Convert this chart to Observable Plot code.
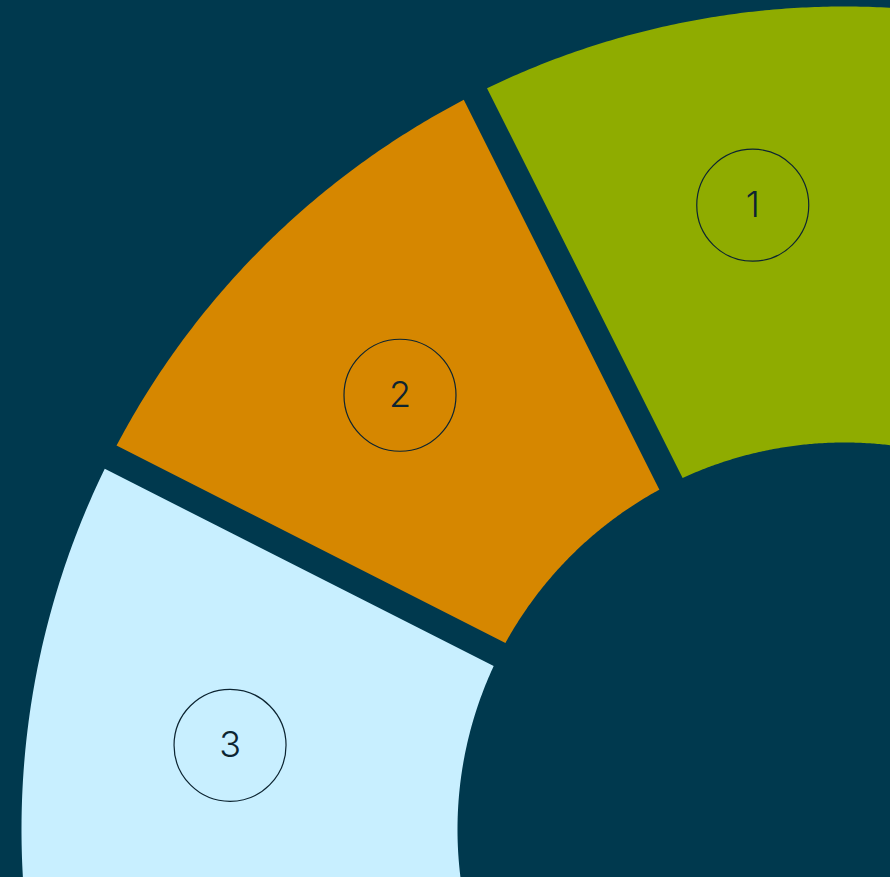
<!DOCTYPE html>
<html>
<head>
<meta charset="utf-8">
<script src="https://cdn.jsdelivr.net/npm/d3@7"></script>
<script src="https://cdn.jsdelivr.net/npm/@observablehq/plot@0.6"></script>
<style>
  html, body { margin: 0; padding: 0; background: #00394e; overflow: hidden; }
  #chart svg { display: block; }
</style>
</head>
<body>
<div id="chart"></div>
<script>
// ---- data (angles in degrees, counter-clockwise from 12 o'clock) ----
const segmentLabels = ["1", "2", "3"];
const segmentStart  = [-9.8, 26.65, 63.1];
const segmentEnd    = [26.65, 63.1, 99.55];
const segmentColors = ["#8fac00", "#d68700", "#c8efff"];

// ---- geometry / style constants ----
const W = 890, H = 877;
const CX = 844, CY = 829;           // donut centre in page pixels
const R_OUT = 823, R_IN = 387;
const GAP = 26;                     // parallel gap between slices
// label badge placement (polar, relative to the donut centre)
const LABEL_ANGLE = [8.36, 45.67, 82.2];
const LABEL_R = [631, 621.4, 620.2];
const BG = "#00394e";
const INK = "#0c2431";

const rad = d => d * Math.PI / 180;
const px = (r, a) => -r * Math.sin(rad(a));
const py = (r, a) => r * Math.cos(rad(a));

// build slice outlines from the data
const outline = [];
segmentLabels.forEach((lab, i) => {
  const a0 = segmentStart[i], a1 = segmentEnd[i];
  const dO = Math.asin(GAP / 2 / R_OUT) * 180 / Math.PI;
  const dI = Math.asin(GAP / 2 / R_IN) * 180 / Math.PI;
  const n = 120;
  for (let k = 0; k <= n; k++) {
    const a = (a0 + dO) + (a1 - a0 - 2 * dO) * k / n;
    outline.push({label: lab, x: px(R_OUT, a), y: py(R_OUT, a)});
  }
  for (let k = 0; k <= n; k++) {
    const a = (a1 - dI) - (a1 - a0 - 2 * dI) * k / n;
    outline.push({label: lab, x: px(R_IN, a), y: py(R_IN, a)});
  }
});

const labels = segmentLabels.map((lab, i) => ({
  label: lab,
  x: px(LABEL_R[i], LABEL_ANGLE[i]),
  y: py(LABEL_R[i], LABEL_ANGLE[i])
}));

const chart = Plot.plot({
  width: W,
  height: H,
  margin: 0,
  style: {background: BG, overflow: "hidden"},
  x: {domain: [-CX, W - CX], range: [0, W], axis: null},
  y: {domain: [CY, CY - H], range: [0, H], axis: null},
  color: {domain: segmentLabels, range: segmentColors},
  marks: [
    Plot.line(outline, {x: "x", y: "y", z: "label", fill: "label", stroke: null, curve: "linear"}),
    Plot.dot(labels, {x: "x", y: "y", r: 56, stroke: INK, strokeWidth: 1.2, fill: "none"}),
    Plot.text(labels, {x: "x", y: "y", text: "label", fill: INK, fontSize: 36,
                       fontFamily: "Inter, 'Noto Sans', sans-serif", fontWeight: 300})
  ]
});
document.getElementById("chart").appendChild(chart);
</script>
</body>
</html>
